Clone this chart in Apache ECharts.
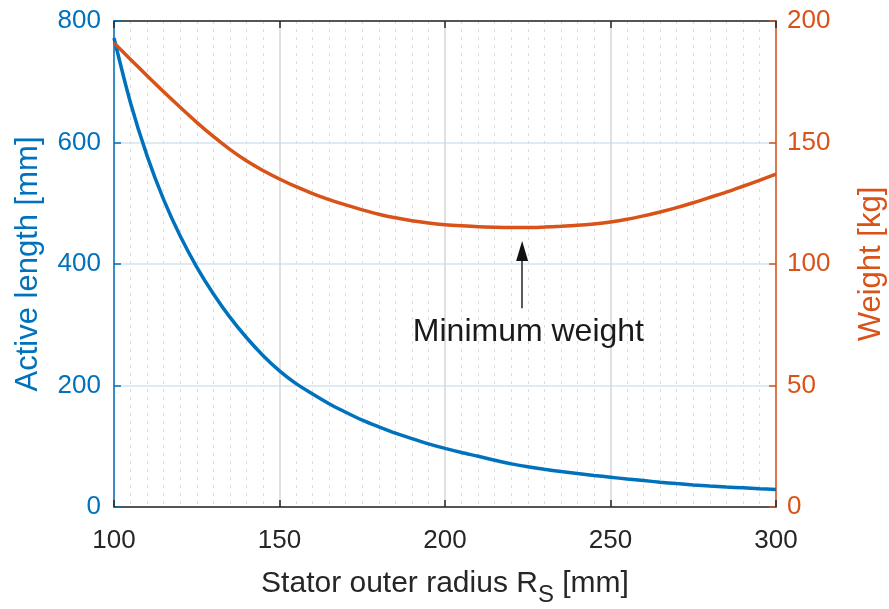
<!DOCTYPE html>
<html><head><meta charset="utf-8">
<script src="https://cdn.jsdelivr.net/npm/echarts@6/dist/echarts.min.js"></script>
<style>html,body{margin:0;padding:0;background:#fff}#c{width:889px;height:609px}</style>
</head><body><div id="c"></div>
<script>
const radius = [100,105,110,115,120,125,130,135,140,145,150,155,160,165,170,175,180,185,190,195,200,205,210,215,220,225,230,235,240,245,250,255,260,265,270,275,280,285,290,295,300];
const activeLength = [772,665,578,506,446,395,351,312.5,279,249.5,224,203,186,170,156,143,132,121.6,112.5,104,96.5,89.7,83.5,77,71,66.2,62,58.3,55,51.9,49,46.1,43.5,40.9,38.5,36.4,34.5,32.9,31.5,30.2,29];
const weight = [191,184.2,177.5,170.9,164.5,158.3,152.5,147.2,142.5,138.5,135,131.8,129,126.5,124.3,122.3,120.5,119,117.8,116.9,116.2,115.7,115.3,115.1,115,115,115.2,115.5,115.9,116.5,117.3,118.4,119.8,121.4,123.2,125.2,127.4,129.6,132,134.45,137];
const xTicks = [100,150,200,250,300];
const leftTicks = [0,200,400,600,800];
const rightTicks = [0,50,100,150,200];
const annotationText = 'Minimum weight';
const arrowX = 223.3, arrowFrom = 81.8, arrowTo = 102, arrowTip = 105.3, textY = 72, textX = 225.2;

const BLUE = '#0072BD', ORANGE = '#D95319', DARK = '#262626';
const FONT = 'Liberation Sans, Arial, Helvetica, sans-serif';

const chart = echarts.init(document.getElementById('c'));
chart.setOption({
  animation: false,
  grid: {left: 114, right: 113, top: 21, bottom: 102, containLabel: false, outerBoundsMode: 'none'},
  xAxis: [{
    type: 'value', min: 100, max: 300, interval: 50, position: 'bottom',
    name: 'Stator outer radius R{sub|S} [mm]', nameLocation: 'middle', nameGap: 54,
    nameTextStyle: {color: DARK, fontSize: 30, fontFamily: FONT,
      rich: {sub: {fontSize: 24, fontFamily: FONT, color: DARK, padding: [22, 0, 0, 0]}}},
    axisLine: {show: true, onZero: false, lineStyle: {color: DARK, width: 1.5}},
    axisTick: {show: true, inside: true, length: 7, lineStyle: {color: DARK, width: 1.5}},
    axisLabel: {color: DARK, fontSize: 26, fontFamily: FONT, margin: 21},
    splitLine: {show: true, lineStyle: {color: '#d6d6d6', width: 1.5}},
    minorTick: {show: false, splitNumber: 10},
    minorSplitLine: {show: true, lineStyle: {color: '#dcdcdc', type: [3, 5], width: 1}}
  }, {
    type: 'value', min: 100, max: 300, interval: 50, position: 'top',
    axisLine: {show: true, onZero: false, lineStyle: {color: DARK, width: 1.5}},
    axisTick: {show: true, inside: true, length: 7, lineStyle: {color: DARK, width: 1.5}},
    axisLabel: {show: false}, splitLine: {show: false}
  }],
  yAxis: [{
    type: 'value', min: 0, max: 800, interval: 200, position: 'left',
    name: 'Active length [mm]', nameLocation: 'middle', nameGap: 70, nameRotate: 90,
    nameTextStyle: {color: BLUE, fontSize: 31, fontFamily: FONT},
    axisLine: {show: true, onZero: false, lineStyle: {color: BLUE, width: 1.5}},
    axisTick: {show: true, inside: true, length: 7, lineStyle: {color: BLUE, width: 1.5}},
    axisLabel: {color: BLUE, fontSize: 26, fontFamily: FONT, margin: 13},
    splitLine: {show: true, lineStyle: {color: '#d5e3ef', width: 1.5}}
  }, {
    type: 'value', min: 0, max: 200, interval: 50, position: 'right',
    name: 'Weight [kg]', nameLocation: 'middle', nameGap: 80, nameRotate: 90,
    nameTextStyle: {color: ORANGE, fontSize: 31, fontFamily: FONT},
    axisLine: {show: true, onZero: false, lineStyle: {color: ORANGE, width: 1.5}},
    axisTick: {show: true, inside: true, length: 7, lineStyle: {color: ORANGE, width: 1.5}},
    axisLabel: {color: ORANGE, fontSize: 26, fontFamily: FONT, margin: 11},
    splitLine: {show: false}
  }],
  series: [{
    name: 'Active length', type: 'line', xAxisIndex: 0, yAxisIndex: 0,
    data: radius.map((r, i) => [r, activeLength[i]]),
    showSymbol: false, smooth: 0.3, lineStyle: {color: BLUE, width: 3.5}, z: 3
  }, {
    name: 'Weight', type: 'line', xAxisIndex: 0, yAxisIndex: 1,
    data: radius.map((r, i) => [r, weight[i]]),
    showSymbol: false, smooth: 0.3, lineStyle: {color: ORANGE, width: 3.5}, z: 4,
    markLine: {
      silent: true, symbol: ['none', 'none'], animation: false,
      lineStyle: {color: '#5a5a5a', width: 2, type: 'solid'},
      label: {show: false},
      data: [[{coord: [arrowX, arrowFrom]}, {coord: [arrowX, arrowTo]}]]
    },
    markPoint: {
      silent: true, animation: false,
      data: [
        {coord: [arrowX, arrowTip], symbol: 'triangle', symbolSize: [12, 20],
         itemStyle: {color: '#111'}, label: {show: false}},
        {coord: [textX, textY], symbol: 'circle', symbolSize: 0,
         label: {show: true, position: 'inside', formatter: annotationText,
           color: '#1a1a1a', fontSize: 32, fontFamily: FONT}}
      ]
    }
  }]
});
</script></body></html>
